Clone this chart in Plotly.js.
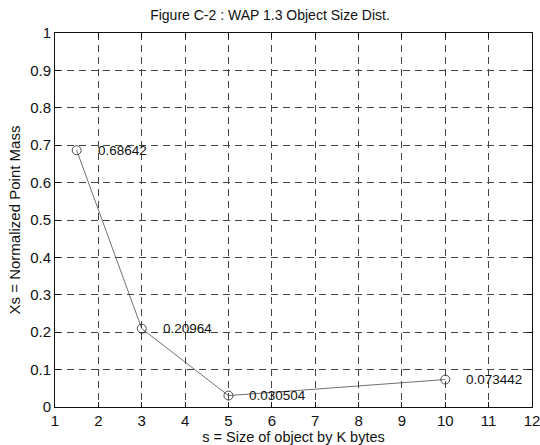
<!DOCTYPE html>
<html>
<head>
<meta charset="utf-8">
<script src="https://cdn.plot.ly/plotly-3.0.1.min.js"></script>
<style>
html,body{margin:0;padding:0;background:#fff;}
#chart{width:540px;height:445px;}
</style>
</head>
<body>
<div id="chart"></div>
<script>
// Data
const objectSizeKB = [1.5, 3, 5, 10];
const pointMass = [0.68642, 0.20964, 0.030504, 0.073442];
const pointLabels = ['0.68642', '0.20964', '0.030504', '0.073442'];
const xTicks = [1, 2, 3, 4, 5, 6, 7, 8, 9, 10, 11, 12];
const yTicks = [0, 0.1, 0.2, 0.3, 0.4, 0.5, 0.6, 0.7, 0.8, 0.9, 1];
const yTickLabels = ['0', '0.1', '0.2', '0.3', '0.4', '0.5', '0.6', '0.7', '0.8', '0.9', '1'];

const FONT = '"Liberation Sans", Arial, Helvetica, sans-serif';

const trace = {
  x: objectSizeKB,
  y: pointMass,
  type: 'scatter',
  mode: 'lines+markers',
  line: {color: '#333', width: 0.7},
  marker: {symbol: 'circle-open', size: 9, color: '#222', line: {width: 0.8, color: '#222'}},
  hoverinfo: 'skip'
};

const annotations = objectSizeKB.map((x, i) => ({
  x: x, y: pointMass[i], xref: 'x', yref: 'y',
  text: pointLabels[i], showarrow: false,
  xanchor: 'left', yanchor: 'middle', xshift: 19,
  font: {family: FONT, size: 13.5, color: '#111'}
}));

const axisCommon = {
  showline: true, mirror: 'ticks', linecolor: '#111', linewidth: 1,
  ticks: 'inside', ticklen: 5, tickcolor: '#111',
  showgrid: true, gridcolor: '#444', gridwidth: 1, griddash: '7px,5px',
  zeroline: false, ticklabeloverflow: 'allow',
  tickfont: {family: FONT, size: 15, color: '#111'}
};

const layout = {
  width: 540, height: 445,
  margin: {l: 55, r: 8, t: 33, b: 38},
  paper_bgcolor: '#fff', plot_bgcolor: '#fff',
  showlegend: false,
  title: {text: 'Figure C-2 : WAP 1.3 Object Size Dist.', font: {family: FONT, size: 14, color: '#111'},
          x: 0.5, xanchor: 'center', y: 0.965, yanchor: 'middle'},
  xaxis: Object.assign({}, axisCommon, {
    range: [1, 12], tickmode: 'array', tickvals: xTicks,
    title: {text: 's = Size of object by K bytes', font: {family: FONT, size: 14.5, color: '#111'}, standoff: 2}
  }),
  yaxis: Object.assign({}, axisCommon, {
    range: [0, 1], tickmode: 'array', tickvals: yTicks, ticktext: yTickLabels,
    title: {text: 'Xs = Normalized Point Mass', font: {family: FONT, size: 15, color: '#111'}, standoff: 5}
  }),
  annotations: annotations
};

Plotly.newPlot('chart', [trace], layout, {displayModeBar: false, staticPlot: true});
</script>
</body>
</html>
